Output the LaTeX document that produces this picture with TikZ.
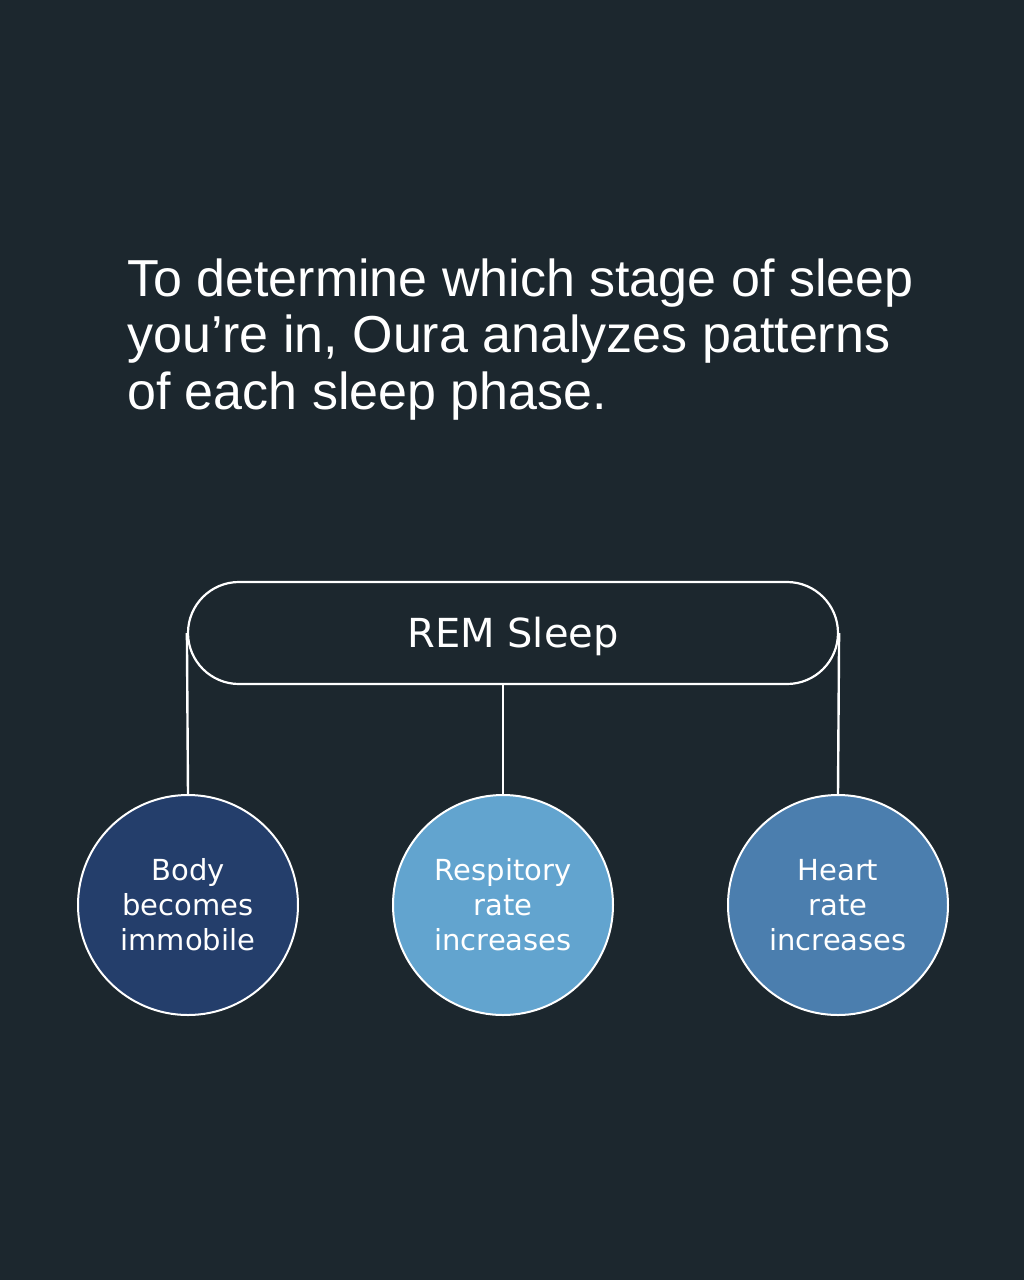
\documentclass[tikz,border=0pt]{standalone}
\usepackage{fontspec}
\setmainfont{Liberation Sans}
\newfontfamily\dvs{DejaVu Sans}
\usetikzlibrary{positioning}
\definecolor{bgc}{HTML}{1C272E}
\definecolor{cnavy}{HTML}{243E6B}
\definecolor{clight}{HTML}{62A4CF}
\definecolor{cmid}{HTML}{4B7EAE}
\tikzset{
  titleline/.style={anchor=base west, inner sep=0, text=white, font=\fontsize{52}{57}\selectfont},
  pill/.style={draw=white, line width=2.2pt, rounded corners=51pt, minimum width=650pt, minimum height=102pt, inner sep=0, text=white, font=\dvs\fontsize{40}{45}\selectfont},
  bubble/.style={circle, draw=white, line width=2pt, minimum size=220pt, inner sep=0, text=white, align=center, font=\dvs\fontsize{29}{35}\selectfont},
  link/.style={draw=white, line width=2.4pt}
}
\begin{document}
\begin{tikzpicture}[x=1pt,y=-1pt]
\fill[bgc] (0,0) rectangle (1024,1280);
\useasboundingbox (0,0) rectangle (1024,1280);
\node[titleline] (t1) at (127,296) {To determine which stage of sleep};
\node[titleline] (t2) at (127,352) {you’re in, Oura analyzes patterns};
\node[titleline] (t3) at (127,409) {of each sleep phase.};
\node[pill] (rem) at (513,633) {\raisebox{-14pt}[0pt][0pt]{REM Sleep}};
\node[bubble, fill=cnavy] (c1) at (188,905) {Body\\becomes\\immobile};
\node[bubble, fill=clight] (c2) at (503,905) {Respitory\\rate\\increases};
\node[bubble, fill=cmid] (c3) at (838,905) {Heart\\rate\\increases};
\draw[link] (rem.west) -- (c1.north);
\draw[link] (c2.north |- rem.south) -- (c2.north);
\draw[link] (rem.east) -- (c3.north);
\end{tikzpicture}
\end{document}
